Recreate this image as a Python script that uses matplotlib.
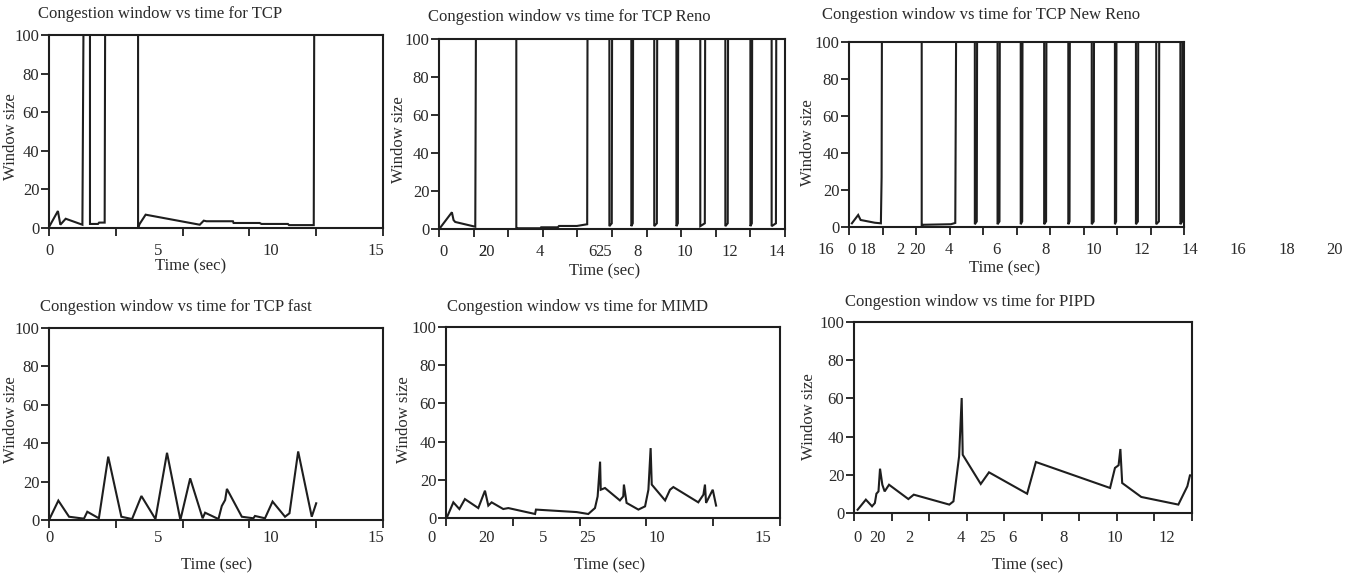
import numpy as np
import matplotlib
matplotlib.use("Agg")
from matplotlib import pyplot as plt

plt.rcParams['font.family'] = ['Liberation Serif', 'DejaVu Serif']
plt.rcParams['font.size'] = 12
INK = '#1e1e1e'

# ---- TCP (Tahoe) ----
tcp_t = [0, 0.4, 0.51, 0.75, 1.5, 1.57, 1.84, 1.84, 2.2, 2.25, 2.5, 2.53, 4.0, 4.0,
         4.07, 4.34, 6.77, 6.95, 7.07, 8.26, 8.29, 9.46, 9.54, 10.73, 10.78, 11.89, 11.92]
tcp_w = [0.5, 8.8, 1.7, 4.8, 1.7, 150, 150, 2.1, 2.1, 2.8, 2.8, 150, 150, 0,
         2.1, 6.9, 1.7, 3.8, 3.5, 3.5, 2.6, 2.6, 2.1, 2.1, 1.5, 1.5, 150]
tcp_ticks = [0, 4.9, 9.95, 14.7]
tcp_labels = ['0', '5', '10', '15']

# ---- TCP Reno ----
reno_t = [-0.14, 0.36, 0.43, 0.5, 1.34, 1.38, 3.06, 3.06, 3.1, 4.07, 4.1, 4.8, 4.85, 5.6, 6.03, 6.05]
reno_w = [0.5, 8.8, 4.7, 3.7, 1.2, 150, 150, 0, 0.4, 0.4, 0.9, 0.9, 1.6, 1.6, 2.5, 150]
reno_drop = [6.96, 7.88, 8.84, 9.77, 10.77, 11.82, 12.87, 13.76]
reno_rise = [7.08, 7.96, 8.97, 9.85, 10.98, 11.94, 12.95, 13.96]
reno_ticks = [0, 1.65, 1.83, 4.05, 6.27, 6.73, 8.13, 10.1, 12.0, 13.97]
reno_labels = ['0', '2', '20', '4', '6', '25', '8', '10', '12', '14']

# ---- TCP New Reno ----
newreno_t = [0, 0.26, 0.36, 0.95, 1.2, 1.23, 1.25, 2.89, 2.89, 2.95, 4.1, 4.28, 4.33]
newreno_w = [2.0, 6.5, 3.8, 2.3, 2.0, 27, 150, 150, 0, 1.2, 1.5, 2.2, 150]
newreno_drop = [5.09, 6.03, 6.99, 7.96, 8.96, 9.93, 10.89, 11.76, 12.6, 13.6]
newreno_rise = [5.19, 6.13, 7.07, 8.06, 9.03, 10.03, 10.96, 11.86, 12.73, 13.7]
newreno_ticks = [-1.08, 0, 0.68, 2, 2.72, 4, 6, 8, 10, 12, 14, 16, 18, 20]
newreno_labels = ['16', '0', '18', '2', '20', '4', '6', '8', '10', '12', '14', '16', '18', '20']

# ---- TCP fast ----
fast_t = [0, 0.42, 0.9, 1.57, 1.72, 2.24, 2.66, 3.25, 3.73, 4.15, 4.78, 5.3, 5.9, 6.34,
          6.9, 7.01, 7.61, 7.76, 7.91, 7.99, 8.66, 9.18, 9.25, 9.7, 10.04, 10.6, 10.8,
          11.19, 11.8, 12.0]
fast_w = [0, 10.1, 1.7, 0.7, 4.3, 0.9, 33, 1.7, 0.5, 12.5, 0.5, 35, 0, 21.7,
          0.9, 3.8, 0.5, 7.3, 10.4, 16.2, 1.7, 0.9, 2.1, 0.9, 9.6, 1.7, 3.5,
          35.7, 1.7, 8.7]
fast_ticks = [0, 4.88, 9.95, 14.67]
fast_labels = ['0', '5', '10', '15']

# ---- MIMD ----
mimd_t = [0.03, 0.33, 0.6, 0.85, 1.45, 1.75, 1.9, 2.05, 2.57, 2.8, 4.0, 4.04, 5.87, 6.39,
          6.69, 6.81, 6.92, 6.95, 7.14, 7.81, 7.96, 7.99, 8.11, 8.64, 8.94, 9.09, 9.19,
          9.24, 9.84, 10.06, 10.21, 11.33, 11.56, 11.63, 11.68, 11.98, 12.13]
mimd_w = [0, 8.2, 4.7, 9.9, 5.2, 14.3, 6.5, 8.2, 4.7, 5.2, 2.1, 4.4, 3.1, 2.1,
          5.2, 11.3, 29.5, 14.8, 15.7, 9.2, 11.3, 17.5, 7.9, 4.4, 6.1, 14.8, 36.6,
          17.5, 9.2, 14.8, 16.2, 8.2, 12.2, 17.5, 7.9, 14.8, 6.5]
mimd_ticks = [-0.63, 1.84, 4.36, 6.38, 9.47, 14.23]
mimd_labels = ['0', '20', '5', '25', '10', '15']

# ---- PIPD ----
pipd_t = [0, 0.32, 0.56, 0.67, 0.73, 0.81, 0.87, 0.96, 1.05, 1.22, 1.97, 2.18, 3.56, 3.72,
          3.94, 4.04, 4.08, 4.78, 5.1, 6.58, 6.92, 9.8, 9.99, 10.13, 10.2, 10.27, 11.01,
          12.45, 12.8, 12.9, 12.98]
pipd_w = [1.7, 7.0, 3.5, 5.2, 10.1, 11.3, 23.2, 14.8, 11.3, 14.8, 7.3, 9.6, 4.4, 6.1,
          29.7, 60.2, 30.5, 15.2, 21.3, 10.1, 26.7, 13.1, 23.6, 25, 33.5, 15.7, 8.4,
          4.4, 14, 19.7, 19.7]
pipd_ticks = [0, 0.77, 2, 4, 5.06, 6, 8, 10, 12]
pipd_labels = ['0', '20', '2', '4', '25', '6', '8', '10', '12']

y_ticks = [0, 20, 40, 60, 80, 100]


def with_spikes(t, w, drops, rises, floor=1.5, hook=3.0):
    # window collapses at each drop and climbs back off-scale at the rise
    t, w = list(t), list(w)
    for d, r in zip(drops, rises):
        t += [d, d, r - 0.02, r]
        w += [150, floor, hook, 150]
    return t, w


reno_t, reno_w = with_spikes(reno_t, reno_w, reno_drop, reno_rise)
newreno_t, newreno_w = with_spikes(newreno_t, newreno_w, newreno_drop, newreno_rise)

W, H = 1361, 575
fig = plt.figure(figsize=(W / 100, H / 100), dpi=100)

panels = [
    # box (l, t, r, b) px, xlim, tick intervals, title, title pos, xlabel pos, ylabel pos, label drop
    dict(box=(49, 35, 383, 228), xlim=(0, 15), n=5, t=tcp_t, w=tcp_w,
         ticks=tcp_ticks, labels=tcp_labels, title='Congestion window vs time for TCP',
         tpos=(38, 14), xl=(191, 266), yl=(11, 137), drop=23),
    dict(box=(439, 39, 785, 229), xlim=(-0.18, 14.32), n=10, t=reno_t, w=reno_w,
         ticks=reno_ticks, labels=reno_labels, title='Congestion window vs time for TCP Reno',
         tpos=(428, 17), xl=(605, 271), yl=(399, 140), drop=23),
    dict(box=(849, 42, 1184, 227), xlim=(-0.12, 13.75), n=10, t=newreno_t, w=newreno_w,
         ticks=newreno_ticks, labels=newreno_labels,
         title='Congestion window vs time for TCP New Reno',
         tpos=(822, 15), xl=(1005, 268), yl=(808, 143), drop=23),
    dict(box=(49, 328, 383, 520), xlim=(0, 15), n=5, t=fast_t, w=fast_w,
         ticks=fast_ticks, labels=fast_labels, title='Congestion window vs time for TCP fast',
         tpos=(40, 307), xl=(217, 565), yl=(11, 420), drop=18),
    dict(box=(446, 327, 780, 518), xlim=(0, 15), n=5, t=mimd_t, w=mimd_w,
         ticks=mimd_ticks, labels=mimd_labels, title='Congestion window vs time for MIMD',
         tpos=(447, 307), xl=(610, 565), yl=(404, 420), drop=20),
    dict(box=(854, 322, 1192, 513), xlim=(-0.14, 12.98), n=9, t=pipd_t, w=pipd_w,
         ticks=pipd_ticks, labels=pipd_labels, title='Congestion window vs time for PIPD',
         tpos=(845, 302), xl=(1028, 565), yl=(809, 417), drop=25),
]

for p in panels:
    l, t, r, b = p['box']
    ax = fig.add_axes([l / W, 1 - b / H, (r - l) / W, (b - t) / H])
    ax.plot(p['t'], p['w'], color=INK, lw=1.5, solid_joinstyle='miter')
    ax.set_xlim(*p['xlim'])
    ax.set_ylim(0, 100)
    ax.set_yticks(y_ticks)
    ax.set_yticklabels([str(v) for v in y_ticks], color='#2a2a2a')
    ax.set_xticks(np.linspace(p['xlim'][0], p['xlim'][1], p['n'] + 1))
    ax.set_xticklabels([])
    ax.tick_params(direction='out', length=6, width=1.3, pad=1, color=INK)
    for s in ax.spines.values():
        s.set_linewidth(1.5)
        s.set_color(INK)
    for pos, lab in zip(p['ticks'], p['labels']):
        ax.annotate(lab, xy=(pos, 0), xycoords=('data', 'axes fraction'),
                    xytext=(0, -p['drop'] * 0.72), textcoords='offset points',
                    ha='center', va='center', color='#2a2a2a', annotation_clip=False)
    fig.text(p['tpos'][0] / W, 1 - p['tpos'][1] / H, p['title'],
             ha='left', va='center', color='#2a2a2a')
    fig.text(p['xl'][0] / W, 1 - p['xl'][1] / H, 'Time (sec)',
             ha='center', va='center', color='#2a2a2a')
    fig.text(p['yl'][0] / W, 1 - p['yl'][1] / H, 'Window size', rotation=90,
             ha='center', va='center', color='#2a2a2a')

fig.savefig('out.png', dpi=100, facecolor='white')
